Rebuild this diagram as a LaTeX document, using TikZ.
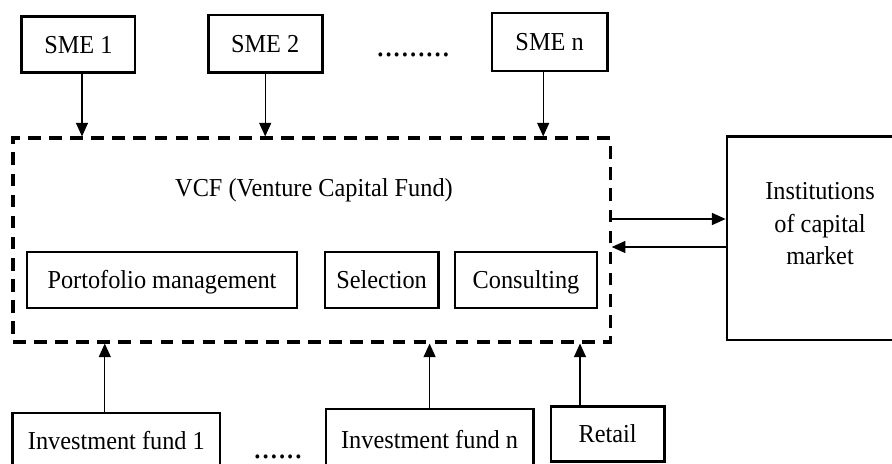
\documentclass[tikz,border=0pt]{standalone}
\usepackage{fontspec}
\setmainfont[FakeStretch=0.94]{Liberation Serif}
\usetikzlibrary{arrows.meta}

\begin{document}
\begin{tikzpicture}[
    caixa/.style={draw, line width=2pt, minimum height=1.4cm, inner sep=0pt,
                  text height=12pt, text depth=0pt,
                  font=\fontsize{18.4}{22}\selectfont},
    seta/.style={line width=0.9pt, -{Triangle[length=0.34cm, width=0.3cm]}},
    tracejado/.style={draw, line width=2.2pt, dash pattern=on 9pt off 6pt},
    pontos/.style={inner sep=0pt, font=\fontsize{24.8}{26}\selectfont}
]
            \useasboundingbox (0,0) rectangle (22.3,11.6);

            % Empresas (SME)
            \node[caixa, minimum width=2.83cm] (sme1) at (1.96,10.48) {SME 1};
            \node[caixa, minimum width=2.85cm, minimum height=1.43cm] (sme2) at (6.63,10.51) {SME 2};
            \node[pontos] (dotsA) at (10.33,10.22) {.........};
            \node[caixa, minimum width=2.88cm, minimum height=1.45cm] (smen) at (13.74,10.55) {SME n};

            % Fundo de capital de risco (VCF)
            \node[tracejado, minimum width=14.93cm, minimum height=5.1cm] (vcf) at (7.79,5.6) {};
            \node[font=\fontsize{18.4}{22}\selectfont] (vcftitle) at (7.85,6.85) {VCF (Venture Capital Fund)};
            \node[caixa, minimum width=6.75cm] (pm) at (4.05,4.6) {Portofolio management};
            \node[caixa, minimum width=2.83cm] (sel) at (9.54,4.6) {Selection};
            \node[caixa, minimum width=3.55cm] (cons) at (13.15,4.6) {Consulting};

            % Instituições do mercado de capitais
            \node[caixa, minimum width=4.65cm, minimum height=5.08cm] (inst) at (20.5,5.64) {};
            \node[align=center, font=\fontsize{18.4}{23.1}\selectfont] (insttext) at (20.5,6.0) {Institutions\\of capital\\market};

            % Investidores
            \node[caixa, minimum width=5.18cm] (fund1) at (2.91,0.575) {Investment fund 1};
            \node[pontos] (dotsB) at (6.95,0.18) {......};
            \node[caixa, minimum width=5.18cm, minimum height=1.55cm] (fundn) at (10.74,0.6) {Investment fund n};
            \node[caixa, minimum width=2.83cm, minimum height=1.375cm] (retail) at (15.19,0.74) {Retail};

            % Setas
            \draw[seta] ([xshift=0.09cm]sme1.south) -- ([xshift=0.09cm]sme1.south |- vcf.north);
            \draw[seta] (sme2.south) -- (sme2.south |- vcf.north);
            \draw[seta] ([xshift=-0.16cm]smen.south) -- ([xshift=-0.16cm]smen.south |- vcf.north);
            \draw[seta] ([xshift=-0.29cm]fund1.north) -- ([xshift=-0.29cm]fund1.north |- vcf.south);
            \draw[seta] (fundn.north) -- (fundn.north |- vcf.south);
            \draw[seta] ([xshift=-0.69cm]retail.north) -- ([xshift=-0.69cm]retail.north |- vcf.south);
            \draw[seta] (vcf.east |- 0,6.125) -- (inst.west |- 0,6.125);
            \draw[seta] (inst.west |- 0,5.425) -- (vcf.east |- 0,5.425);
        \end{tikzpicture}
\end{document}
